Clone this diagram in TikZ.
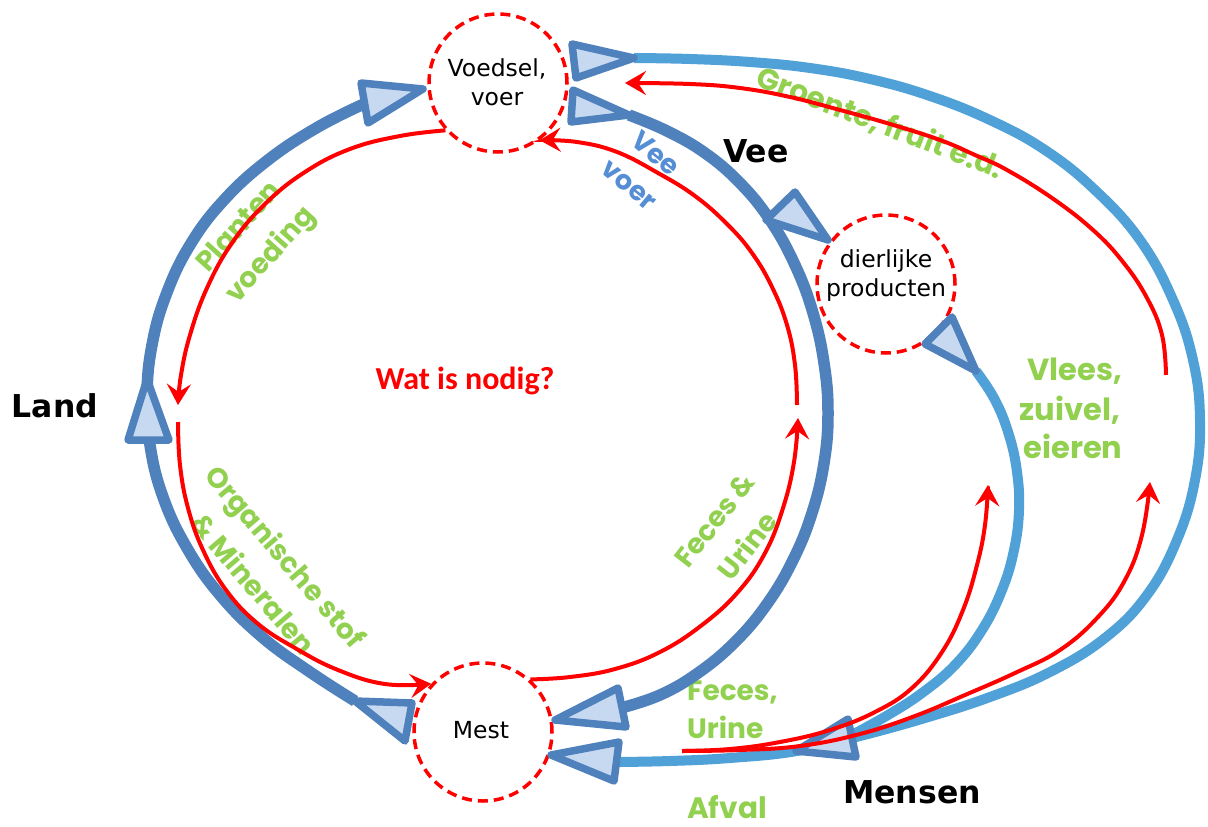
\documentclass[tikz,border=0pt]{standalone}
\usepackage{fontspec}
\setmainfont{DejaVu Sans}
\newfontfamily\gfont{Poppins}
\newfontfamily\cfont{Carlito}
\usetikzlibrary{arrows.meta}
\definecolor{dblue}{HTML}{4F81BD}
\definecolor{lblue}{HTML}{4FA1D8}
\definecolor{tfill}{HTML}{C6D9F1}
\definecolor{lgreen}{HTML}{92D050}
\definecolor{tblue}{HTML}{558ED5}
\definecolor{rred}{HTML}{FF0000}
\begin{document}
\begin{tikzpicture}[x=1pt,y=-1pt,
 circ/.style={circle, draw=rred, line width=3.5pt, dash pattern=on 10pt off 6pt, fill=white, minimum size=138pt, inner sep=0pt},
 ctext/.style={font=\fontsize{23.5}{29}\selectfont, align=center, inner sep=0pt},
 blk/.style={font=\bfseries\fontsize{31.5}{36}\selectfont, inner sep=0pt},
 grn/.style={text=lgreen, font=\gfont\bfseries\fontsize{28}{42}\selectfont, align=center, inner sep=0pt},
 grnl/.style={grn, font=\gfont\bfseries\fontsize{30.5}{42}\selectfont},
 vtxt/.style={text=tblue, font=\gfont\bfseries\fontsize{27}{41}\selectfont, align=center, inner sep=0pt},
 dline/.style={draw=dblue, line width=11.5pt},
 lline/.style={draw=lblue, line width=10pt},
 rline/.style={draw=rred, line width=4pt},
 rarr/.style={rline, -{Stealth[length=21pt,width=24pt,inset=8pt]}},
 tri/.style={draw=dblue, fill=tfill, line width=7.5pt, line join=round},
 sm/.style={smooth, tension=0.7}
]
\fill[white] (0,0) rectangle (1208,827);
\useasboundingbox (0,0) rectangle (1208,827);

% ---------- labels ----------
\node[grn, rotate=48] (planten) at (256,242) {Planten\\voeding};
\node[grn, rotate=-49.5] (organisch) at (270,570) {Organische stof\\\& Mineralen};
\node[grn, rotate=52] (fecesu) at (731,533) {Feces \&\\Urine};
\node[grn, font=\gfont\bfseries\fontsize{29.5}{42}\selectfont, rotate=-21] (groente) at (880,123) {Groente, fruit e.d.};
\node[vtxt, rotate=-40] (veevoer) at (643,169) {Vee\\voer};
\node[grn, anchor=base west] (feces) at (687,700) {Feces,};
\node[grn, anchor=base west] (urine) at (687,738) {Urine};
\node[grn, font=\gfont\bfseries\fontsize{29.5}{42}\selectfont, anchor=base west] (afval) at (687,818) {Afval};
\node[grnl, anchor=base] (vlees) at (1075,380) {Vlees,};
\node[grnl, anchor=base] (zuivel) at (1070,420) {zuivel,};
\node[grnl, anchor=base] (eieren) at (1073,458) {eieren};

\node[blk] (land) at (55,406) {Land};
\node[blk] (vee) at (756,151) {Vee};
\node[blk] (mensen) at (912,792) {Mensen};
\node[text=rred, font=\cfont\bfseries\fontsize{32}{36}\selectfont, inner sep=0pt] (wat) at (465,381) {Wat is nodig?};

% ---------- circles ----------
\node[circ] (voedsel) at (498,83) {};
\node[circ] (mest) at (483,732) {};
\node[circ] (dier) at (886,284) {};

% ---------- triangle points ----------
\coordinate (ta1) at (361,83);  \coordinate (ta2) at (423,89);  \coordinate (ta3) at (368,123);
\coordinate (tb1) at (147,379); \coordinate (tb2) at (128,440); \coordinate (tb3) at (169,440);
\coordinate (tc1) at (355,701); \coordinate (tc2) at (412,703); \coordinate (tc3) at (405,741);
\coordinate (td1) at (572,44);  \coordinate (td2) at (634,58);  \coordinate (td3) at (576,78);
\coordinate (te1) at (573,90);  \coordinate (te2) at (629,115); \coordinate (te3) at (571,122);
\coordinate (tf1) at (795,192); \coordinate (tf2) at (828,240); \coordinate (tf3) at (766,220);
\coordinate (tg1) at (925,344); \coordinate (tg2) at (952,317); \coordinate (tg3) at (976,371);
\coordinate (th1) at (796,751); \coordinate (th2) at (848,719); \coordinate (th3) at (856,757);
\coordinate (ti1) at (555,720); \coordinate (ti2) at (618,688); \coordinate (ti3) at (626,727);
\coordinate (tj1) at (551,755); \coordinate (tj2) at (619,742); \coordinate (tj3) at (614,781);

% ---------- blue connectors ----------
% Mest -> Land -> Voedsel
\draw[dline] plot[sm] coordinates {(tc1) (310,672) (262,637) (220,595) (187,548) (163,497) (150,445) (147,395) (152,345) (166,295) (190,245) (224,200) (268,160) (318,127) (366,103)};
% Voedsel -> Vee -> Mest
\draw[dline] plot[sm] coordinates {(te2) (667,131) (705,153) (740,183) (770,220) (795,265) (813,313) (824,363) (828,413) (824,463) (812,513) (793,560) (767,604) (735,642) (698,673) (660,695) (621,708)};
% Voedsel -> Mensen -> Mest
\draw[lline] plot[sm] coordinates {(td2) (690,59) (750,62) (810,68) (870,79) (930,96) (990,120) (1045,150) (1095,190) (1140,240) (1173,300) (1193,360) (1200,420) (1195,480) (1177,540) (1147,595) (1105,638) (1050,672) (990,697) (925,718) (860,736) (797,751) (730,758) (670,761) (616,762)};
% dierlijke producten -> Mensen
\draw[lline] plot[sm] coordinates {(tg3) (995,400) (1009,435) (1017,472) (1019,510) (1014,550) (1002,590) (982,630) (955,665) (922,693) (888,715) (852,735)};

% ---------- triangles ----------
\foreach \t in {a,b,c,d,e,f,g,h,i,j}{
  \draw[tri] (t\t1) -- (t\t2) -- (t\t3) -- cycle;
}

% ---------- red connectors ----------
\draw[rarr] plot[sm] coordinates {(voedsel.222) (400,136) (350,149) (305,172) (265,204) (232,243) (207,288) (190,335) (181,375) (178,405)};
\draw[rarr] plot[sm] coordinates {(178,422) (180,465) (188,508) (203,550) (226,590) (257,623) (295,648) (338,670) (385,684) (mest.137)};
\draw[rarr] plot[sm] coordinates {(mest.48) (570,677) (615,669) (660,652) (702,625) (738,592) (765,553) (783,508) (794,462) (798,418)};
\draw[rarr] plot[sm] coordinates {(797,405) (795,365) (787,325) (772,287) (752,253) (727,224) (695,196) (658,173) (617,152) (577,142) (voedsel.306)};
\draw[rarr] plot[sm] coordinates {(1166,375) (1162,335) (1147,298) (1123,262) (1093,230) (1052,198) (1007,170) (975,155) (940,140) (890,124) (840,110) (790,97) (740,88) (690,84) (625,83)};
\coordinate (rs) at (682,751);
\draw[rarr] plot[sm] coordinates {(rs) (730,749) (780,742) (830,730) (875,712) (912,688) (942,652) (963,610) (977,565) (985,525) (988,485)};
\draw[rarr] plot[sm] coordinates {(rs) (740,750) (800,746) (860,734) (915,716) (965,695) (1015,673) (1060,650) (1098,617) (1125,580) (1142,535) (1150,482)};

% ---------- circle texts ----------
\node[ctext] (tvoedsel) at (497,82) {Voedsel,\\voer};
\node[ctext] (tmest) at (481,730) {Mest};
\node[ctext] (tdier) at (886,276) {dierlijke\\producten};
\end{tikzpicture}
\end{document}
